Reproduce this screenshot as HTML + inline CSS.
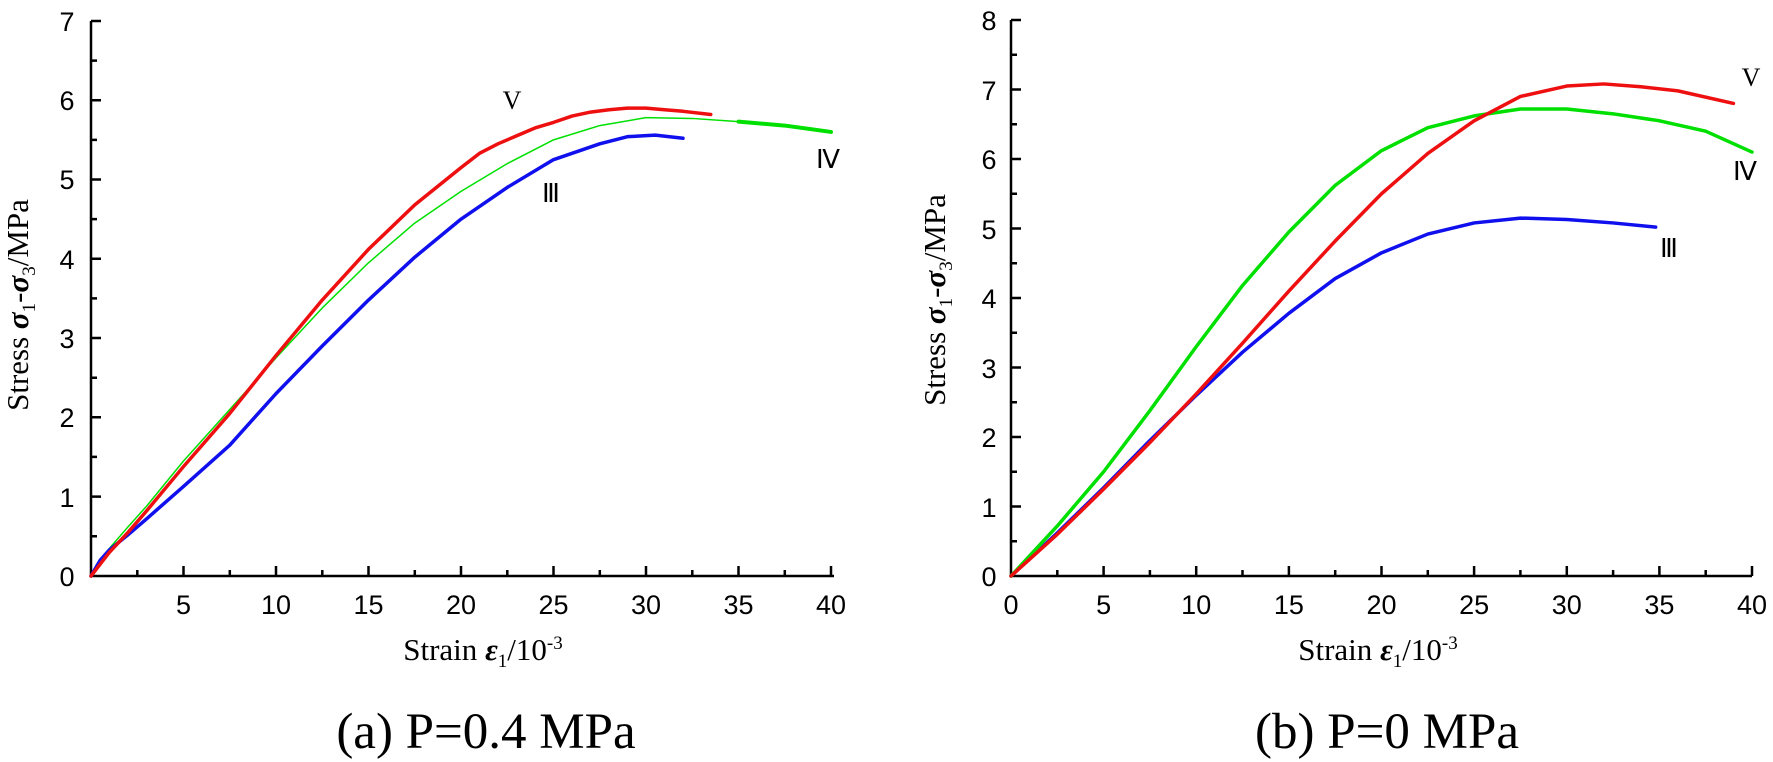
<!DOCTYPE html>
<html><head><meta charset="utf-8"><style>
html,body{margin:0;padding:0;background:#fff}
svg{display:block}
.t{font-family:"Liberation Sans",Arial,sans-serif;font-size:27px;fill:#000}
.s{font-family:"Liberation Serif","Times New Roman",serif;fill:#000}
</style></head><body>
<svg width="1773" height="762" viewBox="0 0 1773 762" xmlns="http://www.w3.org/2000/svg">
<!-- LEFT CHART -->
<g stroke="#000" stroke-width="2.5" fill="none">
<path d="M91,21 V576 H834"/>
<path d="M91,21h10M91,60.6h6M91,100.2h10M91,139.9h6M91,179.5h10M91,219.1h6M91,258.8h10M91,298.4h6M91,338h10M91,377.7h6M91,417.3h10M91,456.9h6M91,496.6h10M91,536.2h6"/>
<path d="M137.3,576v-6M183.5,576v-10M229.8,576v-6M276,576v-10M322.3,576v-6M368.5,576v-10M414.8,576v-6M461,576v-10M507.3,576v-6M553.5,576v-10M599.8,576v-6M646,576v-10M692.3,576v-6M738.5,576v-10M784.8,576v-6M831,576v-10"/>
</g>
<g class="t" text-anchor="middle">
<text x="67" y="586">0</text><text x="67" y="507">1</text><text x="67" y="427">2</text><text x="67" y="348">3</text><text x="67" y="269">4</text><text x="67" y="189">5</text><text x="67" y="110">6</text><text x="67" y="31">7</text>
<text x="183.5" y="614">5</text><text x="276" y="614">10</text><text x="368.5" y="614">15</text><text x="461" y="614">20</text><text x="553.5" y="614">25</text><text x="646" y="614">30</text><text x="738.5" y="614">35</text><text x="831" y="614">40</text>
</g>
<text class="s" font-size="31" transform="translate(28,305) rotate(-90)" text-anchor="middle">Stress <tspan font-weight="bold" font-style="italic">σ</tspan><tspan font-size="19" dy="7">1</tspan><tspan dy="-7">-</tspan><tspan font-weight="bold" font-style="italic">σ</tspan><tspan font-size="19" dy="7">3</tspan><tspan dy="-7">/MPa</tspan></text>
<text class="s" font-size="31" x="483" y="660" text-anchor="middle">Strain <tspan font-weight="bold" font-style="italic">ε</tspan><tspan font-size="19" dy="7">1</tspan><tspan dy="-7">/10</tspan><tspan font-size="19" dy="-11">-3</tspan></text>
<text class="s" font-size="51" x="486" y="748" text-anchor="middle">(a)  P=0.4 MPa</text>
<g transform="translate(91,576) scale(18.5,-79.3)" fill="none" stroke-linejoin="round" stroke-linecap="round">
<polyline vector-effect="non-scaling-stroke" stroke="#00e000" stroke-width="1.5" points="0,0 0.5,0.2 1,0.35 2,0.62 3,0.88 5,1.45 7.5,2.1 10,2.75 12.5,3.38 15,3.95 17.5,4.45 20,4.85 22.5,5.2 25,5.5 27.5,5.68 30,5.78 32.5,5.77 35,5.73"/>
<polyline vector-effect="non-scaling-stroke" stroke="#00e000" stroke-width="4" points="35,5.73 37.5,5.68 40,5.6"/>
<polyline vector-effect="non-scaling-stroke" stroke="#1010ee" stroke-width="3.5" points="0,0 0.5,0.2 1,0.33 2,0.52 3,0.72 5,1.13 7.5,1.65 10,2.3 12.5,2.9 15,3.48 17.5,4.02 20,4.5 22.5,4.9 25,5.25 27.5,5.45 29,5.54 30.5,5.56 32,5.52"/>
<polyline vector-effect="non-scaling-stroke" stroke="#ee1010" stroke-width="3.5" points="0,0 0.5,0.15 1,0.3 2,0.55 3,0.82 5,1.38 7.5,2.05 10,2.78 12.5,3.48 15,4.12 17.5,4.68 20,5.15 21,5.33 22,5.45 23,5.55 24,5.65 25,5.72 26,5.8 27,5.85 28,5.88 29,5.9 30,5.9 31,5.88 32,5.86 33.5,5.82"/>
</g>
<g class="s" font-size="26" text-anchor="middle">
<text x="512" y="109">V</text><text x="828" y="168">Ⅳ</text><text x="551" y="202">Ⅲ</text>
</g>

<!-- RIGHT CHART -->
<g stroke="#000" stroke-width="2.5" fill="none">
<path d="M1011,20 V576 H1752"/>
<path d="M1011,20h10M1011,54.8h6M1011,89.5h10M1011,124.3h6M1011,159h10M1011,193.8h6M1011,228.5h10M1011,263.3h6M1011,298h10M1011,332.8h6M1011,367.5h10M1011,402.3h6M1011,437h10M1011,471.8h6M1011,506.5h10M1011,541.3h6"/>
<path d="M1057.3,576v-6M1103.6,576v-10M1149.9,576v-6M1196.2,576v-10M1242.5,576v-6M1288.9,576v-10M1335.2,576v-6M1381.5,576v-10M1427.8,576v-6M1474.1,576v-10M1520.4,576v-6M1566.8,576v-10M1613.1,576v-6M1659.4,576v-10M1705.7,576v-6M1752,576v-10"/>
</g>
<g class="t" text-anchor="middle">
<text x="989" y="586">0</text><text x="989" y="517">1</text><text x="989" y="447">2</text><text x="989" y="378">3</text><text x="989" y="308">4</text><text x="989" y="239">5</text><text x="989" y="169">6</text><text x="989" y="100">7</text><text x="989" y="30">8</text>
<text x="1011" y="614">0</text><text x="1103.6" y="614">5</text><text x="1196.2" y="614">10</text><text x="1288.9" y="614">15</text><text x="1381.5" y="614">20</text><text x="1474.1" y="614">25</text><text x="1566.8" y="614">30</text><text x="1659.4" y="614">35</text><text x="1752" y="614">40</text>
</g>
<text class="s" font-size="31" transform="translate(945,300) rotate(-90)" text-anchor="middle">Stress <tspan font-weight="bold" font-style="italic">σ</tspan><tspan font-size="19" dy="7">1</tspan><tspan dy="-7">-</tspan><tspan font-weight="bold" font-style="italic">σ</tspan><tspan font-size="19" dy="7">3</tspan><tspan dy="-7">/MPa</tspan></text>
<text class="s" font-size="31" x="1378" y="660" text-anchor="middle">Strain <tspan font-weight="bold" font-style="italic">ε</tspan><tspan font-size="19" dy="7">1</tspan><tspan dy="-7">/10</tspan><tspan font-size="19" dy="-11">-3</tspan></text>
<text class="s" font-size="51" x="1387" y="748" text-anchor="middle">(b)  P=0 MPa</text>
<g transform="translate(1011,576) scale(18.525,-69.5)" fill="none" stroke-linejoin="round" stroke-linecap="round">
<polyline vector-effect="non-scaling-stroke" stroke="#1010ee" stroke-width="3.5" points="0,0 2.5,0.62 5,1.27 7.5,1.95 10,2.6 12.5,3.22 15,3.78 17.5,4.28 20,4.65 22.5,4.92 25,5.08 27.5,5.15 30,5.13 32.5,5.08 34.8,5.02"/>
<polyline vector-effect="non-scaling-stroke" stroke="#00e000" stroke-width="3.5" points="0,0 2.5,0.72 5,1.5 7.5,2.38 10,3.3 12.5,4.18 15,4.95 17.5,5.62 20,6.12 22.5,6.45 25,6.62 27.5,6.72 30,6.72 32.5,6.65 35,6.55 37.5,6.4 40,6.1"/>
<polyline vector-effect="non-scaling-stroke" stroke="#ee1010" stroke-width="3.5" points="0,0 2.5,0.6 5,1.25 7.5,1.92 10,2.62 12.5,3.35 15,4.1 17.5,4.82 20,5.5 22.5,6.08 25,6.55 27.5,6.9 30,7.05 32,7.08 34,7.04 36,6.98 39,6.8"/>
</g>
<g class="s" font-size="26" text-anchor="middle">
<text x="1751" y="86">V</text><text x="1745" y="180">Ⅳ</text><text x="1669" y="257">Ⅲ</text>
</g>
</svg>
</body></html>
